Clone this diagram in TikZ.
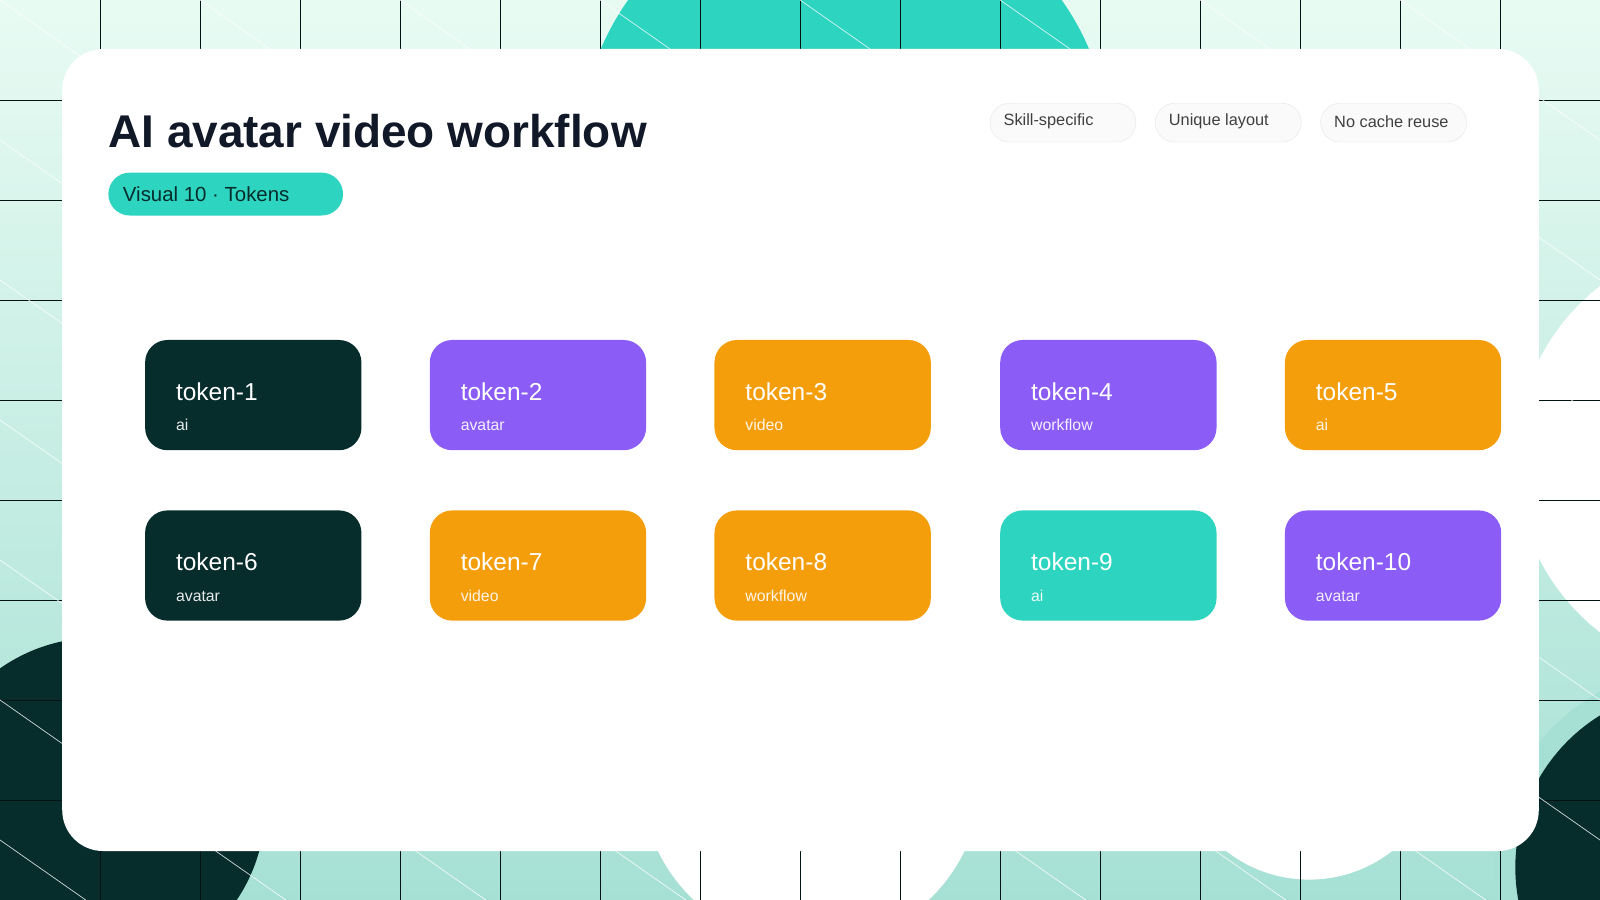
\documentclass[tikz,border=0pt]{standalone}
\usepackage{fontspec}
\setmainfont{Liberation Sans}
\begin{document}
\begin{tikzpicture}[x=1pt,y=-1pt,
  tok/.style={rounded corners=22pt,minimum width=212pt,minimum height=108pt,anchor=north west,inner sep=0pt},
  tname/.style={anchor=base west,text=white,font=\fontsize{24}{28}\selectfont},
  tsub/.style={anchor=base west,text=white,opacity=0.9,font=\fontsize{15.5}{18}\selectfont},
  tag/.style={draw=gray!20,fill=gray!4,rounded corners=19pt,minimum width=143pt,minimum height=38pt,anchor=north west,inner sep=0pt},
  tagt/.style={anchor=west,text=black!75,font=\fontsize{16}{19}\selectfont}]
\definecolor{dk}{HTML}{062C2C}
\definecolor{pu}{HTML}{8B5CF6}
\definecolor{orr}{HTML}{F59E0B}
\definecolor{te}{HTML}{2DD4BF}
\definecolor{ttl}{HTML}{111827}
\definecolor{bgt}{HTML}{E8FBF3}
\definecolor{bgb}{HTML}{A6E0D4}
\useasboundingbox (0,0) rectangle (1568,882);
\begin{scope}
\clip (0,0) rectangle (1568,882);
\shade[top color=bgt, bottom color=bgb] (0,0) rectangle (1568,882);
\fill[te] (828,150) circle (260);
\fill[dk] (95,790) circle (165);
\fill[white] (795,761) circle (167);
\fill[white] (1283,730) circle (132);
\fill[white] (1700,450) circle (215);
\fill[bgb] (1660,850) circle (195);
\fill[dk] (1660,850) circle (175);
\foreach \i in {1,...,16}{\draw[black!85!teal,line width=0.8pt] (98*\i,0) -- (98*\i,882);}
\foreach \i in {1,...,9}{\draw[black!85!teal,line width=0.8pt] (0,98*\i) -- (1568,98*\i);}
\foreach \i in {-8,...,16}{\draw[white,opacity=0.8,line width=0.7pt] (196*\i,0) -- (196*\i+1260,882);}
\end{scope}
\fill[white] (61,48) [rounded corners=40pt] rectangle (1508,834);
\node[anchor=base west,inner sep=0pt,text=ttl,font=\bfseries\fontsize{45}{52}\selectfont] (title) at (106,145) {AI avatar video workflow};
\node[fill=te,rounded corners=21pt,minimum width=230pt,minimum height=42pt,anchor=north west,inner sep=0pt] (pill) at (106,169) {};
\node[anchor=west,text=dk,font=\fontsize{20}{24}\selectfont] (pillt) at (117,190) {Visual 10 · Tokens};
\node[tag] (g1) at (970,101) {}; \node[tagt] at (980,119) {Skill-specific};
\node[tag] (g2) at (1132,101) {}; \node[tagt] at (1142,119) {Unique layout};
\node[tag] (g3) at (1294,101) {}; \node[tagt] at (1304,119) {No cache reuse};
\foreach \n/\c/\s/\x/\y in {1/dk/ai/142/333,2/pu/avatar/421/333,3/orr/video/700/333,4/pu/workflow/980/333,5/orr/ai/1259/333,6/dk/avatar/142/500,7/orr/video/421/500,8/orr/workflow/700/500,9/te/ai/980/500,10/pu/avatar/1259/500}{
  \node[tok,fill=\c] (t\n) at (\x,\y) {};
  \node[tname] (tn\n) at (\x+27,\y+59) {token-\n};
  \node[tsub] (ts\n) at (\x+27,\y+89) {\s};
}
\end{tikzpicture}
\end{document}
